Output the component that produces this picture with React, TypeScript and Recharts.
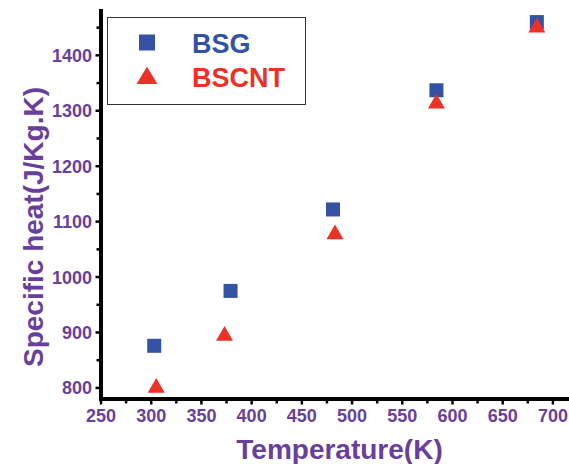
import React from 'react';
import { ScatterChart, Scatter, XAxis, YAxis, Legend } from 'recharts';

const SERIES_NAMES = ['BSG', 'BSCNT'];
const BSG_T = [303, 379, 481, 584, 684];
const BSG_CP = [876, 975, 1122, 1337, 1460];
const BSCNT_T = [305, 373, 483, 584, 684];
const BSCNT_CP = [800, 894, 1077, 1313, 1450];
const X_TICKS = [250, 275, 300, 325, 350, 375, 400, 425, 450, 475, 500, 525, 550, 575, 600, 625, 650, 675, 700];
const Y_TICKS = [800, 850, 900, 950, 1000, 1050, 1100, 1150, 1200, 1250, 1300, 1350, 1400, 1450];
const X_MAJOR = [250, 300, 350, 400, 450, 500, 550, 600, 650, 700];
const Y_MAJOR = [800, 900, 1000, 1100, 1200, 1300, 1400];

const BLUE = '#3352a4';
const RED = '#ec3127';
const PURPLE = '#6a3f9c';
const FONT = '"Liberation Sans", Arial, Helvetica, sans-serif';

const bsgData = BSG_T.map((t, i) => ({ x: t, y: BSG_CP[i] }));
const bscntData = BSCNT_T.map((t, i) => ({ x: t, y: BSCNT_CP[i] }));

const frameLine = { stroke: '#000', strokeWidth: 4, strokeLinecap: 'square' as const };

const XTick = (props: any) => {
  const { x, y, payload } = props;
  const major = X_MAJOR.includes(payload.value);
  return (
    <g>
      <line x1={x} x2={x} y1={y} y2={y + (major ? 5.5 : 4.5)} stroke="#000" strokeWidth={2.5} />
      {major && (
        <text x={x} y={y + 23} textAnchor="middle" fill={PURPLE} stroke="none" fontSize={18} fontWeight="bold" fontFamily={FONT}>
          {payload.value}
        </text>
      )}
    </g>
  );
};

const YTick = (props: any) => {
  const { x, y, payload } = props;
  const major = Y_MAJOR.includes(payload.value);
  return (
    <g>
      <line x1={x} x2={x - (major ? 5.5 : 4.5)} y1={y} y2={y} stroke="#000" strokeWidth={2.5} />
      {major && (
        <text x={x - 9} y={y + 6.5} textAnchor="end" fill={PURPLE} stroke="none" fontSize={18} fontWeight="bold" fontFamily={FONT}>
          {payload.value}
        </text>
      )}
    </g>
  );
};

const Square = (props: any) => {
  const { cx, cy } = props;
  return <rect x={cx - 7} y={cy - 7} width={14} height={14} fill={BLUE} />;
};

const Triangle = (props: any) => {
  const { cx, cy } = props;
  const pts = `${cx},${cy - 9.8} ${cx - 8.5},${cy + 4.9} ${cx + 8.5},${cy + 4.9}`;
  return <polygon points={pts} fill={RED} />;
};

const LegendBox = () => (
  <div style={{ width: 199, height: 88, border: '1px solid #333', boxSizing: 'border-box', background: '#fff' }}>
    <svg width={197} height={86} style={{ display: 'block' }}>
      <rect x={31} y={16.5} width={16} height={16} fill={BLUE} />
      <polygon points="39,48.7 28.5,66 49.5,66" fill={RED} />
      <text x={84} y={34.5} fill={BLUE} fontSize={27} fontWeight="bold" fontFamily={FONT}>{SERIES_NAMES[0]}</text>
      <text x={84} y={69} fill={RED} fontSize={27} fontWeight="bold" fontFamily={FONT}>{SERIES_NAMES[1]}</text>
    </svg>
  </div>
);

export default function App() {
  return (
    <div style={{ position: 'absolute', left: 0, top: 0, width: 569, height: 464, overflow: 'hidden', background: '#fff' }}>
      <ScatterChart width={600} height={464} margin={{ top: 11, right: 27, bottom: 0, left: 0 }}>
        <XAxis
          xAxisId="main"
          type="number"
          dataKey="x"
          domain={[250, 720]}
          allowDataOverflow
          ticks={X_TICKS}
          interval={0}
          tick={<XTick />}
          tickLine={false}
          axisLine={frameLine}
          stroke="#000"
          strokeWidth={4}
          tickSize={0}
          tickMargin={0}
          height={65}
          label={{
            content: (p: any) => {
              const vb = p.viewBox;
              return (
                <text x={vb.x + vb.width / 2 + 2.5} y={vb.y + 60} textAnchor="middle" fill={PURPLE} stroke="none" fontSize={28} fontWeight="bold" fontFamily={FONT}>
                  Temperature(K)
                </text>
              );
            },
          }}
        />
        <XAxis
          xAxisId="top"
          orientation="top"
          type="number"
          domain={[250, 720]}
          allowDataOverflow
          tick={false}
          tickLine={false}
          axisLine={frameLine}
          stroke="#000"
          strokeWidth={4}
          height={0}
        />
        <YAxis
          yAxisId="main"
          type="number"
          dataKey="y"
          domain={[780, 1480]}
          allowDataOverflow
          ticks={Y_TICKS}
          interval={0}
          tick={<YTick />}
          tickLine={false}
          axisLine={frameLine}
          stroke="#000"
          strokeWidth={4}
          tickSize={0}
          tickMargin={0}
          width={101}
          label={{
            content: (p: any) => {
              const vb = p.viewBox;
              const cy = vb.y + vb.height / 2 + 22;
              return (
                <text x={43} y={cy} transform={`rotate(-90 43 ${cy})`} textAnchor="middle" fill={PURPLE} stroke="none" fontSize={28} fontWeight="bold" fontFamily={FONT}>
                  Specific heat(J/Kg.K)
                </text>
              );
            },
          }}
        />
        <YAxis
          yAxisId="right"
          orientation="right"
          type="number"
          domain={[780, 1480]}
          allowDataOverflow
          tick={false}
          tickLine={false}
          axisLine={frameLine}
          stroke="#000"
          strokeWidth={4}
          width={0}
        />
        <Legend
          layout="horizontal"
          verticalAlign="middle"
          align="center"
          content={<LegendBox />}
          wrapperStyle={{ position: 'absolute', left: 107, top: 17, width: 199, height: 88 }}
        />
        <Scatter xAxisId="main" yAxisId="main" name={SERIES_NAMES[0]} data={bsgData} shape={<Square />} isAnimationActive={false} />
        <Scatter xAxisId="main" yAxisId="main" name={SERIES_NAMES[1]} data={bscntData} shape={<Triangle />} isAnimationActive={false} />
      </ScatterChart>
    </div>
  );
}
